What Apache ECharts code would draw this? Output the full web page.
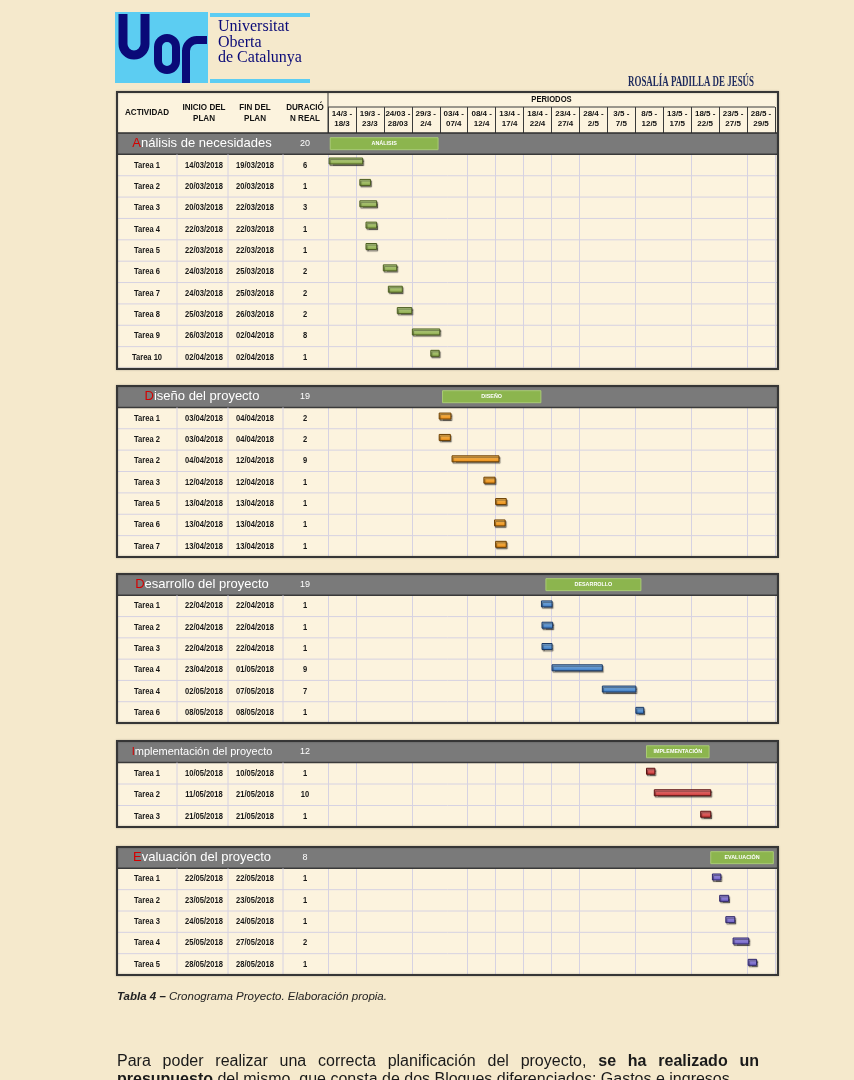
<!DOCTYPE html>
<html><head><meta charset="utf-8">
<script src="https://cdn.jsdelivr.net/npm/echarts@6/dist/echarts.min.js"></script>
<style>html,body{margin:0;padding:0;background:#f5e9cc}#c{width:854px;height:1080px}</style>
</head><body><div id="c"></div><script>
// ---------------- DATA ----------------
const periodLabels = ['14/3 -\n18/3','19/3 -\n23/3','24/03 -\n28/03','29/3 -\n2/4','03/4 -\n07/4','08/4 -\n12/4','13/4 -\n17/4','18/4 -\n22/4','23/4 -\n27/4','28/4 -\n2/5','3/5 -\n7/5','8/5 -\n12/5','13/5 -\n17/5','18/5 -\n22/5','23/5 -\n27/5','28/5 -\n29/5'];
const headerLabels = ['ACTIVIDAD','INICIO DEL\nPLAN','FIN DEL\nPLAN','DURACIÓ\nN REAL'];
const periodsTitle = 'PERIODOS';
const blockTitles = ['Análisis de necesidades','Diseño del proyecto','Desarrollo del proyecto','Implementación del proyecto','Evaluación del proyecto'];
const blockTotals = [20,19,19,12,8];
const phaseLabels = ['ANÁLISIS','DISEÑO','DESARROLLO','IMPLEMENTACIÓN','EVALUACIÓN'];
// phase bars, in days from 14/03
const phaseFrom = [0.4,20.5,39.0,57.0,68.5];
const phaseTo   = [19.7,38.1,56.0,68.2,79.7];

const b1Tasks = ['Tarea 1','Tarea 2','Tarea 3','Tarea 4','Tarea 5','Tarea 6','Tarea 7','Tarea 8','Tarea 9','Tarea 10'];
const b1Start = ['14/03/2018','20/03/2018','20/03/2018','22/03/2018','22/03/2018','24/03/2018','24/03/2018','25/03/2018','26/03/2018','02/04/2018'];
const b1End   = ['19/03/2018','20/03/2018','22/03/2018','22/03/2018','22/03/2018','25/03/2018','25/03/2018','26/03/2018','02/04/2018','02/04/2018'];
const b1Days  = [6,1,3,1,1,2,2,2,8,1];
const b1From  = [0.2,5.7,5.7,6.8,6.8,9.9,10.8,12.4,15.1,18.4];
const b1To    = [6.2,7.6,8.7,8.7,8.7,12.3,13.3,15.0,20.0,19.9];

const b2Tasks = ['Tarea 1','Tarea 2','Tarea 2','Tarea 3','Tarea 5','Tarea 6','Tarea 7'];
const b2Start = ['03/04/2018','03/04/2018','04/04/2018','12/04/2018','13/04/2018','13/04/2018','13/04/2018'];
const b2End   = ['04/04/2018','04/04/2018','12/04/2018','12/04/2018','13/04/2018','13/04/2018','13/04/2018'];
const b2Days  = [2,2,9,1,1,1,1];
const b2From  = [19.9,19.9,22.2,27.9,30.0,29.8,30.0];
const b2To    = [22.0,21.9,30.6,29.9,31.9,31.7,31.9];

const b3Tasks = ['Tarea 1','Tarea 2','Tarea 3','Tarea 4','Tarea 4','Tarea 6'];
const b3Start = ['22/04/2018','22/04/2018','22/04/2018','23/04/2018','02/05/2018','08/05/2018'];
const b3End   = ['22/04/2018','22/04/2018','22/04/2018','01/05/2018','07/05/2018','08/05/2018'];
const b3Days  = [1,1,1,9,7,1];
const b3From  = [38.2,38.3,38.3,40.1,49.1,55.1];
const b3To    = [40.1,40.2,40.1,49.1,55.1,56.5];

const b4Tasks = ['Tarea 1','Tarea 2','Tarea 3'];
const b4Start = ['10/05/2018','11/05/2018','21/05/2018'];
const b4End   = ['10/05/2018','21/05/2018','21/05/2018'];
const b4Days  = [1,10,1];
const b4From  = [57.0,58.4,66.7];
const b4To    = [58.5,68.5,68.5];

const b5Tasks = ['Tarea 1','Tarea 2','Tarea 3','Tarea 4','Tarea 5'];
const b5Start = ['22/05/2018','23/05/2018','24/05/2018','25/05/2018','28/05/2018'];
const b5End   = ['22/05/2018','23/05/2018','24/05/2018','27/05/2018','28/05/2018'];
const b5Days  = [1,1,1,2,1];
const b5From  = [68.8,70.1,71.2,72.5,75.2];
const b5To    = [70.3,71.7,72.8,75.3,76.7];

const captionBold = 'Tabla 4 –';
const captionText = ' Cronograma Proyecto. Elaboración propia.';
const para1 = [['Para',0],['poder',0],['realizar',0],['una',0],['correcta',0],['planificación',0],['del',0],['proyecto,',0],['se',1],['ha',1],['realizado',1],['un',1]];
const para2 = [['presupuesto',1],[' del mismo, que consta de dos Bloques diferenciados: Gastos e ingresos.',0]];

// ---------------- LAYOUT ----------------
const blocks = [
  {tasks:b1Tasks,start:b1Start,end:b1End,days:b1Days,from:b1From,to:b1To},
  {tasks:b2Tasks,start:b2Start,end:b2End,days:b2Days,from:b2From,to:b2To},
  {tasks:b3Tasks,start:b3Start,end:b3End,days:b3Days,from:b3From,to:b3To},
  {tasks:b4Tasks,start:b4Start,end:b4End,days:b4Days,from:b4From,to:b4To},
  {tasks:b5Tasks,start:b5Start,end:b5End,days:b5Days,from:b5From,to:b5To}
];
const SANS = "'Liberation Sans', Arial, sans-serif";
const SERIF = "'Liberation Serif', 'DejaVu Serif', serif";
const TL = 117, TR = 778, PL = 328, PR = 775;
const COL_SEP = [177, 228, 283];
const COL_X = [147, 204, 255, 305];
const TITLE_X = 202;
const TITLE_FS = [13,13,13,11,13];
const BAR_DY = [-2,0,0,0,0];
const GRID_Y = [[133,368],[386,557],[574,723],[741,827],[847,975]];
const BOX = [[92,369],[386,557],[574,723],[741,827],[847,975]];
const VLINES = [0,1,3,5,6,7,8,9,11,13,15];   // period boundaries drawn in the body
const NAR = 0.84;
const GRID_C = '#d6d2e2';
const CELL_BG = '#fcf3de';
const BAR_COLORS = [
  ['#c9e196','#84a244','#4c5e22'],
  ['#ffc968','#e8880f','#6a3e00'],
  ['#98c6f2','#3171bb','#1b3964'],
  ['#f38d8d','#c82f2f','#5a1111'],
  ['#ada1ea','#6a5bc1','#2e2568']
];

function measure(text, font){
  const ctx = document.createElement('canvas').getContext('2d');
  ctx.font = font; return ctx.measureText(text).width;
}

function cellText(x, y, text, font, scale){
  return {type:'text', x:x, y:y, scaleX:scale, style:{text:text, x:0, y:0, font:font, fill:'#161616', align:'center', verticalAlign:'middle'}};
}

function tableRender(bi){
  const b = blocks[bi];
  return function(params, api){
    const idx = api.value(1);
    const c = api.coord([0, idx]);
    const h = api.size([0, 1])[1];
    const top = c[1]-h/2, bot = c[1]+h/2, cy = c[1];
    const ch = [];
    if (idx === 0) {
      const t = blockTitles[bi], fs = TITLE_FS[bi];
      ch.push({type:'rect', shape:{x:TL, y:top, width:TR-TL, height:h}, style:{fill:'#7a7a7a'}});
      ch.push({type:'line', shape:{x1:TL, y1:bot, x2:TR, y2:bot}, style:{stroke:'#3a3a3a', lineWidth:1.5}});
      ch.push({type:'text', x:TITLE_X, y:cy, style:{text:'{r|'+t[0]+'}{w|'+t.slice(1)+'}',
        rich:{r:{fill:'#d40000', fontSize:fs, fontFamily:SANS}, w:{fill:'#ffffff', fontSize:fs, fontFamily:SANS}},
        align:'center', verticalAlign:'middle'}});
      ch.push({type:'text', x:COL_X[3], y:cy, style:{text:String(blockTotals[bi]), fill:'#ffffff', font:'9px '+SANS, align:'center', verticalAlign:'middle'}});
    } else {
      const i = idx-1;
      ch.push({type:'line', shape:{x1:TL, y1:bot, x2:TR, y2:bot}, style:{stroke:GRID_C, lineWidth:1}});
      COL_SEP.forEach(function(x){ ch.push({type:'line', shape:{x1:x, y1:top, x2:x, y2:bot}, style:{stroke:GRID_C, lineWidth:1}}); });
      const f = 'bold 9px '+SANS;
      ch.push(cellText(COL_X[0], cy, b.tasks[i], f, NAR));
      ch.push(cellText(COL_X[1], cy, b.start[i], f, NAR));
      ch.push(cellText(COL_X[2], cy, b.end[i], f, NAR));
      ch.push(cellText(COL_X[3], cy, String(b.days[i]), f, NAR));
    }
    return {type:'group', children:ch};
  };
}

function barRender(bi){
  const col = BAR_COLORS[bi];
  return function(params, api){
    const idx = api.value(2);
    const a = api.coord([api.value(0), idx]);
    const e = api.coord([api.value(1), idx]);
    const cy = a[1];
    if (idx === 0) {
      return {type:'group', children:[
        {type:'rect', shape:{x:a[0], y:cy-6, width:e[0]-a[0], height:12}, style:{fill:'#8cb54e', stroke:'#a9cb74', lineWidth:1}},
        {type:'text', x:(a[0]+e[0])/2, y:cy, scaleX:0.9, style:{text:phaseLabels[bi], x:0, y:0, fill:'#ffffff', font:'bold 6px '+SANS, align:'center', verticalAlign:'middle'}}
      ]};
    }
    return {type:'rect', shape:{x:a[0], y:cy-5+BAR_DY[bi], width:e[0]-a[0], height:6},
      style:{fill:new echarts.graphic.LinearGradient(0,0,0,1,[{offset:0,color:col[0]},{offset:1,color:col[1]}]),
        stroke:col[2], lineWidth:1, shadowColor:'rgba(0,0,0,0.45)', shadowOffsetX:1, shadowOffsetY:1.5, shadowBlur:1}};
  };
}

const grids = [], xAxes = [], yAxes = [], series = [];
blocks.forEach(function(b, bi){
  grids.push({left:PL, right:854-PR, top:GRID_Y[bi][0], bottom:1080-GRID_Y[bi][1]});
  xAxes.push({gridIndex:bi, type:'value', min:0, max:80, interval:5,
    axisLine:{show:false}, axisTick:{show:false}, axisLabel:{show:false}, splitLine:{show:false}});
  const rows = ['h'].concat(b.tasks.map(function(_, i){ return 'r'+i; }));
  yAxes.push({gridIndex:bi, type:'category', inverse:true, data:rows, show:false});
  series.push({type:'custom', xAxisIndex:bi, yAxisIndex:bi, silent:true, z:2,
    encode:{x:0, y:1}, data:rows.map(function(_, i){ return [0, i]; }), renderItem:tableRender(bi)});
  const bars = [[phaseFrom[bi], phaseTo[bi], 0]].concat(b.from.map(function(f, i){ return [f, b.to[i], i+1]; }));
  series.push({type:'custom', xAxisIndex:bi, yAxisIndex:bi, silent:true, z:3,
    encode:{x:[0,1], y:2}, data:bars, renderItem:barRender(bi)});
});
const periodSplit = {show:true, interval:function(i){ return VLINES.indexOf(i) >= 0; }, lineStyle:{color:GRID_C, width:1}};
blocks.forEach(function(b, bi){
  if (bi === 0) {
    // header period axis (top of first block)
    xAxes.push({gridIndex:0, type:'category', position:'top', data:periodLabels,
      axisLine:{show:false}, splitLine:periodSplit,
      axisTick:{show:true, interval:0, length:26, lineStyle:{color:'#3a3a3a', width:1}},
      axisLabel:{interval:0, margin:4, fontSize:8, lineHeight:10, color:'#111', fontFamily:"'Liberation Sans Narrow','Liberation Sans',sans-serif", fontWeight:'bold'}});
  } else {
    xAxes.push({gridIndex:bi, type:'category', position:'top', data:periodLabels,
      axisLine:{show:false}, axisTick:{show:false}, axisLabel:{show:false}, splitLine:periodSplit});
  }
});

// ---------------- GRAPHIC ----------------
const g = [];
BOX.forEach(function(bx){
  g.push({type:'rect', z:-10, silent:true, shape:{x:TL, y:bx[0], width:TR-TL, height:bx[1]-bx[0]}, style:{fill:CELL_BG}});
  g.push({type:'rect', z:50, silent:true, shape:{x:TL, y:bx[0], width:TR-TL, height:bx[1]-bx[0]},
    style:{fill:null, stroke:'#363636', lineWidth:2, shadowColor:'rgba(0,0,0,0.3)', shadowBlur:2}});
});
g.push({type:'line', z:40, shape:{x1:PL, y1:107, x2:PR, y2:107}, style:{stroke:'#3a3a3a', lineWidth:1}});
g.push({type:'line', z:40, shape:{x1:PL, y1:92, x2:PL, y2:133}, style:{stroke:'#3a3a3a', lineWidth:1}});
g.push({type:'line', z:40, shape:{x1:TL, y1:133, x2:TR, y2:133}, style:{stroke:'#2e2e2e', lineWidth:1.5}});
headerLabels.forEach(function(t, i){
  g.push({type:'text', z:40, x:COL_X[i], y:113, scaleX:0.95, style:{text:t, x:0, y:0, font:'bold 8.5px '+SANS, lineHeight:11, fill:'#111', align:'center', verticalAlign:'middle'}});
});
g.push({type:'text', z:40, x:(PL+PR)/2, y:100, scaleX:0.9, style:{text:periodsTitle, x:0, y:0, font:'bold 8.5px '+SANS, fill:'#111', align:'center', verticalAlign:'middle'}});

// logo
const NAVY = '#0a0a78', CYAN = '#5ccdf2';
const LS = {fill:null, stroke:NAVY, lineWidth:9, lineCap:'butt'};
g.push({type:'rect', shape:{x:115, y:12, width:93, height:71}, style:{fill:CYAN}});
g.push({type:'line', shape:{x1:123, y1:14, x2:123, y2:44}, style:LS});
g.push({type:'line', shape:{x1:145, y1:14, x2:145, y2:44}, style:LS});
g.push({type:'arc', shape:{cx:134, cy:44, r:11, startAngle:0, endAngle:Math.PI, clockwise:true}, style:LS});
g.push({type:'rect', shape:{x:158, y:38, width:18, height:32, r:9}, style:{fill:null, stroke:NAVY, lineWidth:8}});
const LC = {fill:null, stroke:NAVY, lineWidth:8, lineCap:'butt'};
g.push({type:'line', shape:{x1:196, y1:40, x2:207, y2:40}, style:LC});
g.push({type:'arc', shape:{cx:197, cy:51, r:11, startAngle:-Math.PI/2, endAngle:Math.PI, clockwise:false}, style:LC});
g.push({type:'line', shape:{x1:186, y1:50, x2:186, y2:83}, style:LC});
g.push({type:'rect', shape:{x:210, y:13, width:100, height:4}, style:{fill:CYAN}});
g.push({type:'rect', shape:{x:210, y:79, width:100, height:4}, style:{fill:CYAN}});
['Universitat','Oberta','de Catalunya'].forEach(function(t, i){
  g.push({type:'text', x:218, y:27+i*15.5, style:{text:t, font:'16px '+SERIF, fill:NAVY, verticalAlign:'middle'}});
});
const nameTxt = 'ROSALÍA PADILLA DE JESÚS', nameFont = 'bold 15px '+SERIF;
g.push({type:'text', x:628, y:82, scaleX:126/measure(nameTxt, nameFont), style:{text:nameTxt, x:0, y:0, font:nameFont, fill:'#1e2b5e', verticalAlign:'middle'}});

// caption
g.push({type:'text', x:117, y:997, style:{text:'{b|'+captionBold+'}{i|'+captionText+'}',
  rich:{b:{fontStyle:'italic', fontWeight:'bold', fontSize:11.5, fontFamily:SANS, fill:'#222'}, i:{fontStyle:'italic', fontSize:11.5, fontFamily:SANS, fill:'#222'}},
  verticalAlign:'middle'}});

// paragraph (justified)
const PF = '16px '+SANS, PFB = 'bold 16px '+SANS;
const pw = para1.map(function(w){ return measure(w[0], w[1] ? PFB : PF); });
const total = pw.reduce(function(s, v){ return s+v; }, 0);
const gap = (759-117-total)/(para1.length-1);
let px = 117;
para1.forEach(function(w, i){
  g.push({type:'text', x:px, y:1062, style:{text:w[0], font:w[1] ? PFB : PF, fill:'#1a1a1a', verticalAlign:'middle'}});
  px += pw[i]+gap;
});
px = 117;
para2.forEach(function(w){
  const f = w[1] ? PFB : PF;
  g.push({type:'text', x:px, y:1080, style:{text:w[0], font:f, fill:'#1a1a1a', verticalAlign:'middle'}});
  px += measure(w[0], f);
});

const chart = echarts.init(document.getElementById('c'), null, {renderer:'canvas'});
chart.setOption({
  backgroundColor:'#f5e9cc',
  animation:false,
  grid:grids, xAxis:xAxes, yAxis:yAxes, series:series,
  graphic:{elements:g}
});
</script></body></html>
